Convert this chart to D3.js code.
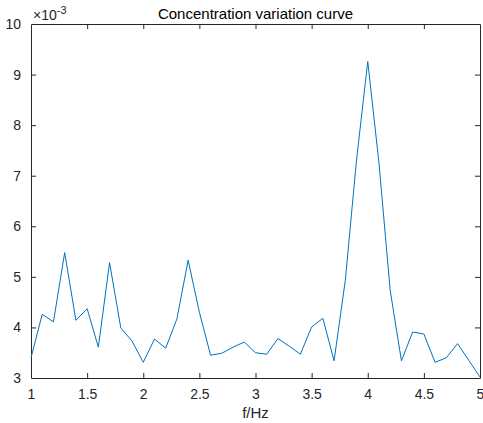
<!DOCTYPE html>
<html>
<head>
<meta charset="utf-8">
<script src="https://cdn.jsdelivr.net/npm/d3@7"></script>
<style>
  html, body { margin: 0; padding: 0; background: #fff; }
  svg { display: block; font-family: "Liberation Sans", Arial, sans-serif; }
</style>
</head>
<body>
<svg id="chart" width="483" height="423"></svg>
<script>
// frequency samples (Hz)
var freqs = [1.0, 1.1, 1.2, 1.3, 1.4, 1.5, 1.6, 1.7, 1.8, 1.9,
             2.0, 2.1, 2.2, 2.3, 2.4, 2.5, 2.6, 2.7, 2.8, 2.9,
             3.0, 3.1, 3.2, 3.3, 3.4, 3.5, 3.6, 3.7, 3.8, 3.9,
             4.0, 4.1, 4.2, 4.3, 4.4, 4.5, 4.6, 4.7, 4.8, 4.9, 5.0];

// concentration, in units of 1e-3
var conc = [3.40, 4.26, 4.11, 5.48, 4.14, 4.37, 3.61, 5.28, 3.99, 3.73,
            3.31, 3.77, 3.59, 4.17, 5.33, 4.30, 3.45, 3.49, 3.61, 3.71,
            3.50, 3.47, 3.78, 3.63, 3.47, 4.01, 4.18, 3.34, 4.93, 7.31,
            9.26, 7.25, 4.73, 3.34, 3.91, 3.87, 3.31, 3.40, 3.68, 3.35, 3.02];

var xTicks = [1, 1.5, 2, 2.5, 3, 3.5, 4, 4.5, 5];
var yTicks = [3, 4, 5, 6, 7, 8, 9, 10];

var axisColor = '#262626';
var lineColor = '#0072BD';

// plot box
var box = { left: 31, top: 24, right: 480, bottom: 378 };

var svg = d3.select('#chart');

var x = d3.scaleLinear().domain([1, 5]).range([box.left, box.right]);
var y = d3.scaleLinear().domain([3, 10]).range([box.bottom, box.top]);

var tickLen = 5;

// bottom axis
var xAxis = svg.append('g')
  .attr('transform', 'translate(0,' + box.bottom + ')')
  .call(d3.axisBottom(x).tickValues(xTicks).tickSizeInner(-tickLen).tickSizeOuter(0)
    .tickPadding(tickLen + 6).tickFormat(d3.format('')));

// top axis (ticks only)
var xTop = svg.append('g')
  .attr('transform', 'translate(0,' + box.top + ')')
  .call(d3.axisTop(x).tickValues(xTicks).tickSizeInner(-tickLen).tickSizeOuter(0).tickFormat(''));

// left axis
var yAxis = svg.append('g')
  .attr('transform', 'translate(' + box.left + ',0)')
  .call(d3.axisLeft(y).tickValues(yTicks).tickSizeInner(-tickLen).tickSizeOuter(0)
    .tickPadding(tickLen + 5).tickFormat(d3.format('')));

// right axis (ticks only)
var yRight = svg.append('g')
  .attr('transform', 'translate(' + box.right + ',0)')
  .call(d3.axisRight(y).tickValues(yTicks).tickSizeInner(-tickLen).tickSizeOuter(0).tickFormat(''));

[xAxis, xTop, yAxis, yRight].forEach(function (g) {
  g.select('.domain').attr('stroke', axisColor).attr('stroke-width', 1);
  g.selectAll('.tick line').attr('stroke', axisColor).attr('stroke-width', 1);
  g.selectAll('.tick text')
    .attr('fill', axisColor)
    .attr('font-size', '14px')
    .attr('font-family', '"Liberation Sans", Arial, sans-serif');
});

// hide end ticks that overlap the box corners
xTop.selectAll('.tick').filter(function (d) { return d === 1 || d === 5; }).select('line').remove();
xAxis.selectAll('.tick').filter(function (d) { return d === 1 || d === 5; }).select('line').remove();
yAxis.selectAll('.tick').filter(function (d) { return d === 3 || d === 10; }).select('line').remove();
yRight.selectAll('.tick').filter(function (d) { return d === 3 || d === 10; }).select('line').remove();

// data line
var line = d3.line()
  .x(function (d, i) { return x(freqs[i]); })
  .y(function (d) { return y(d); });

svg.append('path')
  .datum(conc)
  .attr('d', line)
  .attr('fill', 'none')
  .attr('stroke', lineColor)
  .attr('stroke-width', 1)
  .attr('stroke-linejoin', 'round');

// exponent label
var expo = svg.append('text')
  .attr('x', box.left + 2)
  .attr('y', 20)
  .attr('fill', axisColor)
  .attr('font-size', '14px');
expo.append('tspan').text('\u00d710');
expo.append('tspan').attr('dy', -6).attr('font-size', '11px').text('-3');

// title
svg.append('text')
  .attr('x', (box.left + box.right) / 2)
  .attr('y', 18.5)
  .attr('text-anchor', 'middle')
  .attr('fill', '#000')
  .attr('font-size', '15px')
  .text('Concentration variation curve');

// x label
svg.append('text')
  .attr('x', (box.left + box.right) / 2)
  .attr('y', 418)
  .attr('text-anchor', 'middle')
  .attr('fill', axisColor)
  .attr('font-size', '15px')
  .text('f/Hz');
</script>
</body>
</html>
